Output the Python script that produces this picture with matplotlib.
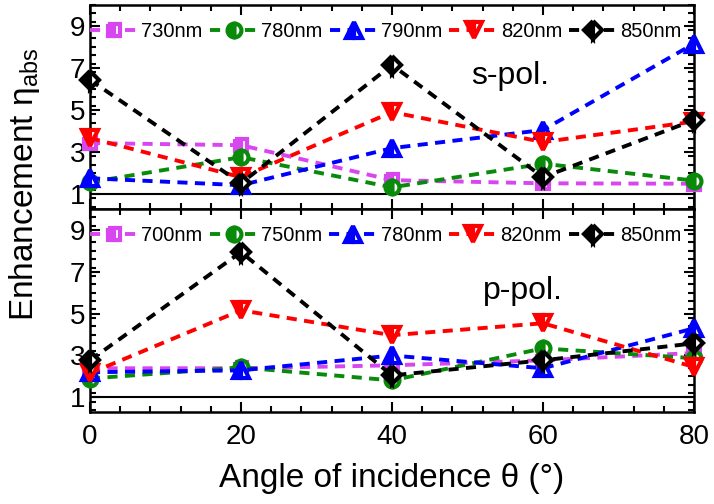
import matplotlib
matplotlib.use("Agg")
import matplotlib.pyplot as plt
from matplotlib.ticker import MultipleLocator

plt.rcParams['font.family'] = ['Liberation Sans', 'DejaVu Sans']
plt.rcParams['mathtext.fontset'] = 'custom'
plt.rcParams['mathtext.rm'] = 'Liberation Sans'
plt.rcParams['mathtext.it'] = 'Liberation Sans'

angles = [0, 20, 40, 60, 80]

s_labels = ['730nm', '780nm', '790nm', '820nm', '850nm']
s_730 = [3.43, 3.33, 1.67, 1.52, 1.50]
s_780 = [1.57, 2.76, 1.33, 2.45, 1.65]
s_790 = [1.76, 1.43, 3.19, 4.05, 8.15]
s_820 = [3.67, 1.81, 4.90, 3.48, 4.45]
s_850 = [6.43, 1.52, 7.14, 1.81, 4.52]

p_labels = ['700nm', '750nm', '780nm', '820nm', '850nm']
p_700 = [2.39, 2.39, 2.53, 2.77, 3.12]
p_750 = [1.90, 2.43, 1.81, 3.34, 2.87]
p_780 = [2.20, 2.29, 3.00, 2.39, 4.30]
p_820 = [2.15, 5.16, 3.97, 4.54, 2.45]
p_850 = [2.77, 7.94, 2.05, 2.77, 3.58]

colors = ['#d846f0', '#0a8a0a', '#0000ff', '#ff0000', '#000000']
markers = ['s', 'o', '^', 'v', 'D']
msizes = [9, 10, 11, 11, 9]

fig = plt.figure(figsize=(7.14, 5.04), dpi=100)
L, R = 90 / 714, 694 / 714
ax1 = fig.add_axes([L, 1 - 209 / 504, R - L, (209 - 4.7) / 504])
ax2 = fig.add_axes([L, 1 - 412 / 504, R - L, (412 - 209) / 504])


def draw(ax, series, labels, text, tx, ty):
    ax.axhline(1, color='black', lw=1.5, zorder=1)
    for ys, lab, c, m, ms in zip(series, labels, colors, markers, msizes):
        ax.plot(angles, ys, color=c, lw=2.8, dashes=(2.6, 1.9),
                marker=m, ms=ms, mec=c, mfc=c, mew=3,
                fillstyle='left', markerfacecoloralt='white',
                label=lab, clip_on=False, zorder=3)
    ax.set_xlim(0, 80)
    ax.set_ylim(0.3, 10)
    ax.set_yticks([1, 3, 5, 7, 9])
    ax.yaxis.set_minor_locator(MultipleLocator(0.4))
    ax.set_xticks([0, 20, 40, 60, 80])
    ax.xaxis.set_minor_locator(MultipleLocator(4))
    ax.tick_params(which='both', direction='in', top=True, right=True,
                   width=1.5, labelsize=20)
    ax.tick_params(axis='x', pad=9)
    ax.tick_params(which='major', length=7)
    ax.tick_params(which='minor', length=4)
    for sp in ax.spines.values():
        sp.set_linewidth(1.8)
    ax.text(tx, ty, text, fontsize=23, ha='left', va='center')
    ax.legend(loc='upper left', bbox_to_anchor=(-0.02, 0.975), ncol=5,
              frameon=False, fontsize=14.5, handlelength=2.4,
              handletextpad=0.15, columnspacing=0.35, borderaxespad=0.2)


draw(ax1, [s_730, s_780, s_790, s_820, s_850], s_labels, 's-pol.', 50.5, 6.6)
draw(ax2, [p_700, p_750, p_780, p_820, p_850], p_labels, 'p-pol.', 52, 6.1)
ax1.tick_params(labelbottom=False)

ax2.set_xlabel('Angle of incidence θ (°)', fontsize=24, labelpad=9)
fig.text(0.035, 1 - 185 / 504, 'Enhancement η$_{\\rm abs}$', rotation=90,
         fontsize=24, ha='center', va='center')

fig.savefig('out.png', dpi=100)
